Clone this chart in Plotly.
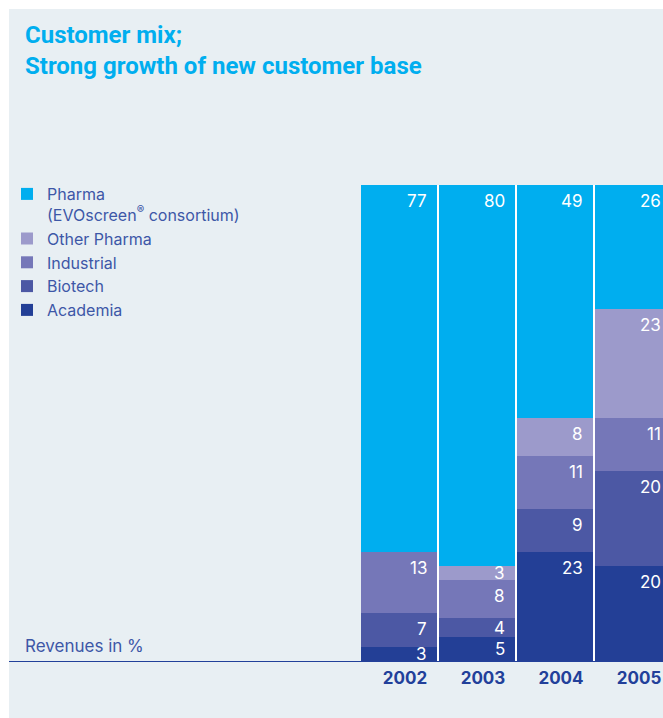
import plotly.graph_objects as go

# ---------------- data ----------------
years = ["2002", "2003", "2004", "2005"]
academia = [3, 5, 23, 20]
biotech = [7, 4, 9, 20]
industrial = [13, 8, 11, 11]
other_pharma = [0, 3, 8, 23]
pharma = [77, 80, 49, 26]

series_names = ["Academia", "Biotech", "Industrial", "Other Pharma",
                "Pharma<br>(EVOscreen<sup>®</sup> consortium)"]
series_values = [academia, biotech, industrial, other_pharma, pharma]
series_colors = ["#233F96", "#4C58A4", "#7577B8", "#9C9ACB", "#00AEEF"]

title_line1 = "Customer mix;"
title_line2 = "Strong growth of new customer base"
unit_label = "Revenues in %"

# ---------------- layout geometry (page pixels) ----------------
W, H = 663, 718
ML, MR, MT, MB = 9, 0, 185, 57
PW, PH = W - ML - MR, H - MT - MB
STEP = 78           # px between bar centres
FIRST_CENTER = 399  # px of first bar centre
BAR_W = 76
BORDER = 9          # white frame on top / left

PANEL = "#E8EFF3"
TEXT_BLUE = "#3D57A7"
DARK_BLUE = "#22409A"
CYAN = "#00AEEF"
FONT = "Inter"
TITLE_FONT = "Roboto"


def px_x(px):
    return (px - ML) / PW


def px_y(py):
    return (MT + PH - py) / PH


x0 = -(FIRST_CENTER - ML) / STEP
x1 = (W - MR - FIRST_CENTER) / STEP

fig = go.Figure()
for name, vals, col in zip(series_names, series_values, series_colors):
    fig.add_trace(go.Bar(
        x=years, y=vals, name=name,
        marker=dict(color=col, line=dict(width=0)),
        hoverinfo="skip",
    ))

# value labels: near the top-right of each segment
pct_per_px = 100.0 / PH
annotations = []
cum = [0] * len(years)
for vals in series_values:
    for i, v in enumerate(vals):
        bottom = cum[i]
        top = cum[i] + v
        cum[i] = top
        if v <= 0:
            continue
        yc = max(top - 16 * pct_per_px, (top + bottom) / 2.0)
        annotations.append(dict(
            x=i, y=yc, xref="x", yref="y", text=str(v),
            showarrow=False, xanchor="right", yanchor="middle",
            xshift=BAR_W / 2 - 8,
            font=dict(family=FONT, size=17, color="white"),
        ))

annotations += [
    dict(x=px_x(23), y=px_y(35), xref="paper", yref="paper", text=title_line1,
         showarrow=False, xanchor="left", yanchor="middle",
         font=dict(family=TITLE_FONT, size=24, color=CYAN, weight="bold")),
    dict(x=px_x(23), y=px_y(66), xref="paper", yref="paper", text=title_line2,
         showarrow=False, xanchor="left", yanchor="middle",
         font=dict(family=TITLE_FONT, size=24, color=CYAN, weight="bold")),
    dict(x=px_x(23), y=px_y(646), xref="paper", yref="paper", text=unit_label,
         showarrow=False, xanchor="left", yanchor="middle",
         font=dict(family=FONT, size=17, color=TEXT_BLUE)),
]

shapes = [
    # white frame on the top and left of the panel
    dict(type="rect", xref="paper", yref="paper", x0=px_x(-5), x1=px_x(W + 5),
         y0=px_y(BORDER), y1=px_y(-5), fillcolor="white", line=dict(width=0), layer="above"),
    dict(type="rect", xref="paper", yref="paper", x0=px_x(-5), x1=px_x(BORDER),
         y0=px_y(H + 5), y1=px_y(-5), fillcolor="white", line=dict(width=0), layer="above"),
    # white background behind the bars -> white gaps between bars
    dict(type="rect", xref="x", yref="y", x0=0, x1=len(years) + 1,
         y0=0, y1=max(sum(c) for c in zip(*series_values)),
         fillcolor="white", line=dict(width=0), layer="below"),
]

fig.update_layout(
    width=W, height=H,
    margin=dict(l=ML, r=MR, t=MT, b=MB, pad=0, autoexpand=False),
    paper_bgcolor=PANEL, plot_bgcolor=PANEL,
    barmode="stack", bargap=(STEP - BAR_W) / STEP,
    showlegend=True,
    legend=dict(
        xref="container", yref="container",
        x=7 / W, y=1 - 177 / H, xanchor="left", yanchor="top",
        traceorder="reversed", valign="top",
        bgcolor="rgba(0,0,0,0)",
        font=dict(family=FONT, size=16, color=TEXT_BLUE),
        tracegroupgap=0,
    ),
    xaxis=dict(
        type="category",
        range=[x0, x1], showgrid=False, zeroline=False,
        showline=True, linecolor=DARK_BLUE, linewidth=1,
        ticks="", ticklabelstandoff=2, ticklabelshift=6,
        tickfont=dict(family=FONT, size=17, color=DARK_BLUE, weight="bold"),
        fixedrange=True,
    ),
    yaxis=dict(range=[0, 100], visible=False, fixedrange=True),
    annotations=annotations,
    shapes=shapes,
)

fig.write_html(
    "out.html",
    config={"displayModeBar": False},
    post_script=(
        "document.body.style.margin='0';"
        "document.body.style.overflow='hidden';"
        "document.documentElement.style.overflow='hidden';"
    ),
)
